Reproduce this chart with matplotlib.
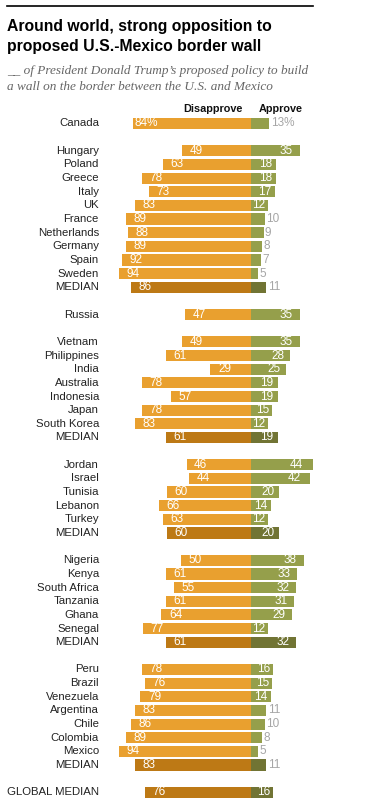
import matplotlib
matplotlib.use("Agg")
import matplotlib.pyplot as plt

plt.rcParams['font.family'] = ['Liberation Sans', 'DejaVu Sans']

# survey groups, in order from top to bottom
canada = ["Canada"]
canada_dis = [84]
canada_app = [13]

europe = ["Hungary", "Poland", "Greece", "Italy", "UK", "France", "Netherlands",
          "Germany", "Spain", "Sweden", "MEDIAN"]
europe_dis = [49, 63, 78, 73, 83, 89, 88, 89, 92, 94, 86]
europe_app = [35, 18, 18, 17, 12, 10, 9, 8, 7, 5, 11]

russia = ["Russia"]
russia_dis = [47]
russia_app = [35]

asia = ["Vietnam", "Philippines", "India", "Australia", "Indonesia", "Japan",
        "South Korea", "MEDIAN"]
asia_dis = [49, 61, 29, 78, 57, 78, 83, 61]
asia_app = [35, 28, 25, 19, 19, 15, 12, 19]

mideast = ["Jordan", "Israel", "Tunisia", "Lebanon", "Turkey", "MEDIAN"]
mideast_dis = [46, 44, 60, 66, 63, 60]
mideast_app = [44, 42, 20, 14, 12, 20]

africa = ["Nigeria", "Kenya", "South Africa", "Tanzania", "Ghana", "Senegal", "MEDIAN"]
africa_dis = [50, 61, 55, 61, 64, 77, 61]
africa_app = [38, 33, 32, 31, 29, 12, 32]

latam = ["Peru", "Brazil", "Venezuela", "Argentina", "Chile", "Colombia",
         "Mexico", "MEDIAN"]
latam_dis = [78, 76, 79, 83, 86, 89, 94, 83]
latam_app = [16, 15, 14, 11, 10, 8, 5, 11]

glob = ["GLOBAL MEDIAN"]
glob_dis = [76]
glob_app = [16]

groups = [(canada, canada_dis, canada_app), (europe, europe_dis, europe_app),
          (russia, russia_dis, russia_app), (asia, asia_dis, asia_app),
          (mideast, mideast_dis, mideast_app), (africa, africa_dis, africa_app),
          (latam, latam_dis, latam_app), (glob, glob_dis, glob_app)]

ORANGE = "#E9A02F"
GREEN = "#959F4B"
ORANGE_MED = "#BD7915"
GREEN_MED = "#717434"
GREY = "#A6A6A6"

W, H = 377, 811
fig = plt.figure(figsize=(W / 100, H / 100), dpi=100)
ax = fig.add_axes([0, 0, 1, 1])
ax.axis("off")

# map: px x = 251 + 1.4*v ; px y = 123.5 + 13.65*row
x0, sx = 251, 1.4
y0, sy = 123.5, 13.65
ax.set_xlim((0 - x0) / sx, (W - x0) / sx)
ax.set_ylim((H - y0) / sy, (0 - y0) / sy)

fs_name = 8.2
fs_num = 8.5
row = 0
for names, dis, app in groups:
    for name, d, a in zip(names, dis, app):
        med = "MEDIAN" in name
        co = ORANGE_MED if med else ORANGE
        cg = GREEN_MED if med else GREEN
        ax.barh(row, -d, height=0.82, color=co, left=0)
        ax.barh(row, a, height=0.82, color=cg, left=0)
        ax.text(-(x0 - 99) / sx, row, name, ha="right", va="center",
                fontsize=fs_name, color="#222222")
        pct = "%" if name == "Canada" else ""
        if name == "Canada":
            ax.text(-d + 0.6, row, f"{d}%", ha="left", va="center", fontsize=fs_num,
                    color="white")
        else:
            ax.text(-d + 5.4, row, f"{d}", ha="left", va="center", fontsize=fs_num,
                    color="white")
        if a >= 12 and name != "Canada":
            ax.text(a * 0.85, row, f"{a}", ha="right", va="center", fontsize=fs_num,
                    color="white")
        else:
            ax.text(a + 1.0, row, f"{a}{pct}", ha="left", va="center", fontsize=fs_num,
                    color=GREY)
        row += 1
    row += 1

# column headers
ax.text(-(x0 - 243) / sx, -1.05, "Disapprove", ha="right", va="center",
        fontsize=7.8, fontweight="bold", color="#111111")
ax.text((259 - x0) / sx, -1.05, "Approve", ha="left", va="center",
        fontsize=7.8, fontweight="bold", color="#111111")

# top rule, title, subtitle
fig.add_artist(plt.Line2D([7 / W, 313 / W], [1 - 6 / H, 1 - 6 / H],
                          color="black", lw=1.2))
fig.text(7 / W, 1 - 26 / H, "Around world, strong opposition to", ha="left",
         va="center", fontsize=11.3, fontweight="bold", color="black")
fig.text(7 / W, 1 - 47 / H, "proposed U.S.-Mexico border wall", ha="left",
         va="center", fontsize=11.3, fontweight="bold", color="black")
fig.text(7 / W, 1 - 71 / H, "__ of President Donald Trump\u2019s proposed policy to build",
         ha="left", va="center", fontsize=9.5, style="italic", color="#666666",
         family=['Liberation Serif', 'DejaVu Serif'])
fig.text(7 / W, 1 - 87 / H, "a wall on the border between the U.S. and Mexico",
         ha="left", va="center", fontsize=9.5, style="italic", color="#666666",
         family=['Liberation Serif', 'DejaVu Serif'])

fig.savefig("out.png", dpi=100)
